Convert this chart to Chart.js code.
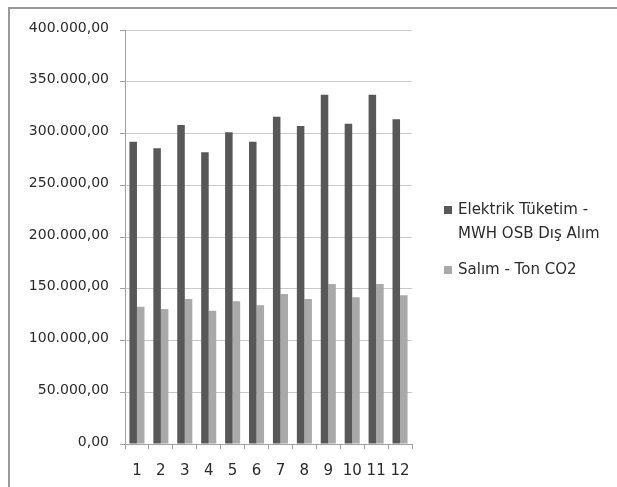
<!DOCTYPE html>
<html>
<head>
<meta charset="utf-8">
<script src="https://cdn.jsdelivr.net/npm/chart.js@4/dist/chart.umd.min.js"></script>
<style>
  html, body { margin: 0; padding: 0; background: #fff; }
  #wrap { position: relative; width: 617px; height: 487px; }
  canvas { display: block; }
</style>
</head>
<body>
<div id="wrap"><canvas id="c" width="617" height="487"></canvas></div>
<script>
// Monthly figures
const months = ['1', '2', '3', '4', '5', '6', '7', '8', '9', '10', '11', '12'];
const elektrikTuketim = [292000, 285700, 308200, 281800, 301200, 292000, 316200, 307200, 337500, 309500, 337500, 313700];
const salimCO2 = [132700, 130400, 140100, 128800, 137900, 134000, 144900, 140100, 154600, 141700, 154600, 143700];
const seriesNames = [['Elektrik Tüketim -', 'MWH OSB Dış Alım'], ['Salım - Ton CO2']];
const seriesColors = ['#585858', '#a9a9a9'];

const FONT = '"DejaVu Sans", "Open Sans", sans-serif';
const TEXT = '#2a2a2a';

// Turkish style number: 400.000,00
function trNumber(v) {
  const fixed = Math.abs(v).toFixed(2).split('.');
  const intPart = fixed[0].replace(/\B(?=(\d{3})+(?!\d))/g, '.');
  return (v < 0 ? '-' : '') + intPart + ',' + fixed[1];
}

// Outer frame (top and left edges) plus the legend on the right
const framePlugin = {
  id: 'frame',
  afterDraw(chart) {
    const ctx = chart.ctx;
    ctx.save();
    ctx.strokeStyle = '#9a9a9a';
    ctx.lineWidth = 2;
    ctx.beginPath();
    ctx.moveTo(9, 487);
    ctx.lineTo(9, 8);
    ctx.lineTo(617, 8);
    ctx.stroke();

    ctx.font = '15px ' + FONT;
    ctx.textBaseline = 'middle';
    ctx.textAlign = 'left';
    const entries = [
      { y: 210, lines: seriesNames[0], color: seriesColors[0] },
      { y: 270, lines: seriesNames[1], color: seriesColors[1] }
    ];
    entries.forEach(e => {
      ctx.fillStyle = e.color;
      ctx.fillRect(444, e.y - 4, 8, 8);
      ctx.fillStyle = TEXT;
      e.lines.forEach((ln, i) => ctx.fillText(ln, 458, e.y + i * 24));
    });
    ctx.restore();
  }
};

new Chart(document.getElementById('c'), {
  type: 'bar',
  data: {
    labels: months,
    datasets: [
      { label: seriesNames[0].join(' '), data: elektrikTuketim, backgroundColor: seriesColors[0] },
      { label: seriesNames[1][0], data: salimCO2, backgroundColor: seriesColors[1] }
    ]
  },
  options: {
    responsive: false,
    animation: false,
    devicePixelRatio: 1,
    layout: { padding: { left: 0, top: 30, right: 205, bottom: 0 } },
    datasets: { bar: { categoryPercentage: 0.63, barPercentage: 1.0 } },
    plugins: { legend: { display: false }, tooltip: { enabled: false } },
    scales: {
      x: {
        grid: { drawOnChartArea: false, offset: true, tickLength: 5, color: '#a0a0a0' },
        border: { color: '#a0a0a0', width: 1 },
        ticks: { color: TEXT, font: { family: FONT, size: 15 }, padding: 13, maxRotation: 0, autoSkip: false },
        afterFit(scale) { scale.height = 43; }
      },
      y: {
        min: 0, max: 400000,
        grid: { color: '#c8c8c8', lineWidth: 1, tickLength: 5, tickColor: '#a0a0a0' },
        border: { color: '#a0a0a0', width: 1 },
        ticks: { stepSize: 50000, color: TEXT, font: { family: FONT, size: 14 }, padding: 11, labelOffset: -2, callback: v => trNumber(v) },
        afterFit(scale) { scale.width = 125; }
      }
    }
  },
  plugins: [framePlugin]
});
</script>
</body>
</html>
